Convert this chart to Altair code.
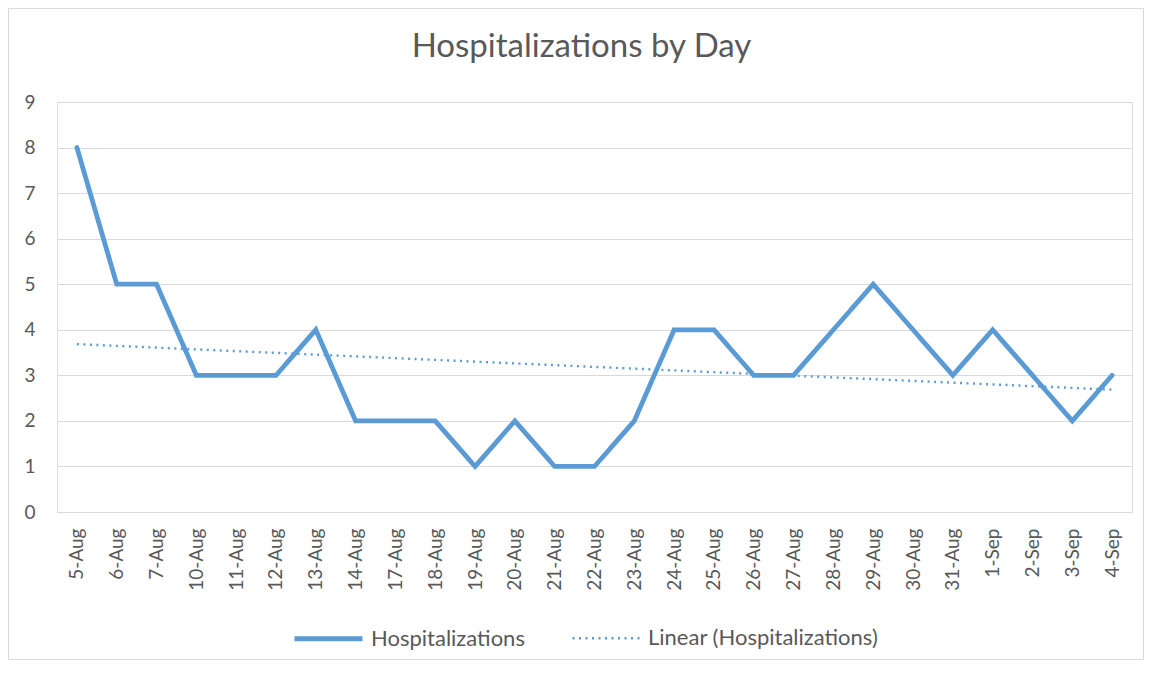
import altair as alt
import pandas as pd

days = ["5-Aug", "6-Aug", "7-Aug", "10-Aug", "11-Aug", "12-Aug", "13-Aug", "14-Aug",
        "17-Aug", "18-Aug", "19-Aug", "20-Aug", "21-Aug", "22-Aug", "23-Aug", "24-Aug",
        "25-Aug", "26-Aug", "27-Aug", "28-Aug", "29-Aug", "30-Aug", "31-Aug", "1-Sep",
        "2-Sep", "3-Sep", "4-Sep"]
hosp = [8, 5, 5, 3, 3, 3, 4, 2, 2, 2, 1, 2, 1, 1, 2, 4, 4, 3, 3, 4, 5, 4, 3, 4, 3, 2, 3]
y_ticks = [0, 1, 2, 3, 4, 5, 6, 7, 8, 9]
series_names = ["Hospitalizations", "Linear (Hospitalizations)"]

df = pd.DataFrame({"idx": list(range(len(days))), "day": days, "value": hosp})

FONT = "Lato"
GREY = "#595959"
BLUE = "#5b9bd5"

label_expr = "[" + ",".join("'%s'" % d for d in days) + "][datum.value]"

x_enc = alt.X("idx:Q",
              scale=alt.Scale(domain=[-0.5, len(days) - 0.5], nice=False, zero=False),
              axis=alt.Axis(values=list(range(len(days))), labelExpr=label_expr,
                            labelAngle=270, labelPadding=16, ticks=False, domain=False,
                            grid=False, title=None, labelFontSize=19, labelColor=GREY,
                            labelFont=FONT))
y_enc = alt.Y("value:Q",
              scale=alt.Scale(domain=[0, 9], nice=False),
              axis=alt.Axis(values=y_ticks, ticks=False, domain=False, grid=True,
                            gridColor="#d9d9d9", gridWidth=1, title=None,
                            labelFontSize=19, labelColor=GREY, labelFont=FONT,
                            labelPadding=22))

legend = alt.Legend(title=None, orient="none", direction="horizontal",
                    legendX=235, legendY=500, symbolType="stroke", symbolSize=4624,
                    labelFontSize=22, labelColor=GREY, labelFont=FONT, labelOffset=6,
                    labelLimit=400, columnPadding=42)

color_enc = alt.Color("series:N", scale=alt.Scale(domain=series_names, range=[BLUE, BLUE]),
                      legend=legend)
dash_enc = alt.StrokeDash("series:N", scale=alt.Scale(domain=series_names, range=[[1, 0], [2, 4.5]]),
                          legend=legend)
width_enc = alt.StrokeWidth("series:N", scale=alt.Scale(domain=series_names, range=[4.8, 2.4]),
                            legend=legend)

main = alt.Chart(df).transform_calculate(series="'Hospitalizations'").mark_line(
    strokeJoin="miter", strokeCap="round"
).encode(x=x_enc, y=y_enc, color=color_enc, strokeDash=dash_enc, strokeWidth=width_enc)

trend = alt.Chart(df).transform_regression("idx", "value").transform_calculate(
    series="'Linear (Hospitalizations)'"
).mark_line().encode(x=x_enc, y=y_enc, color=color_enc, strokeDash=dash_enc,
                     strokeWidth=width_enc)

border = alt.Chart(pd.DataFrame({"a": [0]})).mark_rect(
    fill=None, stroke="#d9d9d9", strokeWidth=1, clip=False
).encode(x=alt.value(-48.5), x2=alt.value(1086.5), y=alt.value(-93.5), y2=alt.value(557.5))

chart = alt.layer(border, trend, main).properties(
    width=1075, height=410,
    title=alt.TitleParams("Hospitalizations by Day", fontSize=33, font=FONT, color=GREY,
                          fontWeight="normal", anchor="middle", offset=-56, dx=-13),
    autosize=alt.AutoSizeParams(type="none"),
    padding={"left": 49, "top": 94, "right": 12, "bottom": 148},
).configure_view(stroke=None).configure(background="white")

chart.save("out.html", embed_options={"renderer": "svg", "actions": False})
